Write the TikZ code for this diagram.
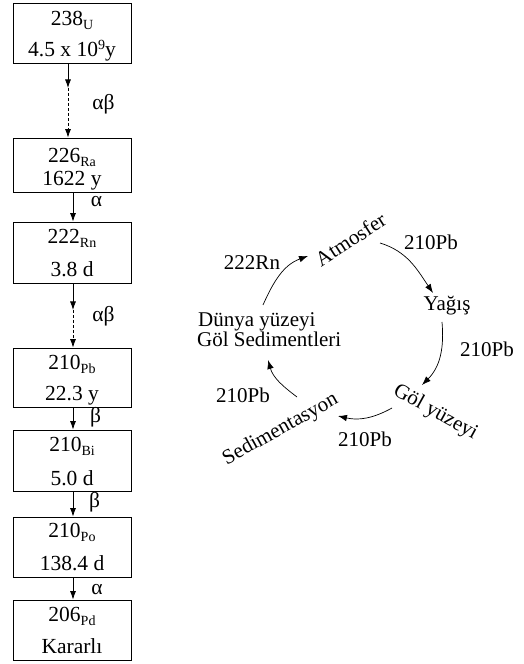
\documentclass[tikz,border=0pt]{standalone}
\usepackage{fontspec}
\setmainfont{Liberation Serif}
\usetikzlibrary{arrows.meta}
\newcommand\isub[1]{\raisebox{-4pt}{\fontsize{14}{14}\selectfont #1}}
\newcommand\isup[1]{\raisebox{7.5pt}{\fontsize{14}{14}\selectfont #1}}
\begin{document}
\begin{tikzpicture}[x=1pt,y=1pt,
  box/.style={draw, line width=0.8pt, minimum width=118pt, inner sep=0pt},
  txt/.style={font=\fontsize{21}{25}\selectfont, inner sep=0pt},
  btxt/.style={font=\fontsize{21.5}{25}\selectfont, inner sep=0pt},
  arr/.style={line width=0.8pt, -{Latex[length=8.5pt,width=6pt]}},
  dsh/.style={arr, dash pattern=on 3pt off 2pt},
  carr/.style={line width=0.7pt, -{Latex[length=9pt,width=6.5pt]}}
]
\useasboundingbox (0,0) rectangle (523,664);
% decay chain boxes
\node[box, minimum height=60pt] (u)  at (72,631)   {};
\node[box, minimum height=54pt] (ra) at (72,499)   {};
\node[box, minimum height=61pt] (rn) at (72,411.5) {};
\node[box, minimum height=59pt] (pb) at (72,286.5) {};
\node[box, minimum height=61pt] (bi) at (72,203.5) {};
\node[box, minimum height=60pt] (po) at (72,117)   {};
\node[box, minimum height=60pt] (pd) at (72,34)    {};
% box texts
\node[btxt, anchor=base] (u1)  at (72,638) {238\isub{U}};
\node[btxt, anchor=base] (u2)  at (72,607) {4.5 x 10\isup{9}y};
\node[btxt, anchor=base] (ra1) at (72,501) {226\isub{Ra}};
\node[btxt, anchor=base] (ra2) at (72,478) {1622 y};
\node[btxt, anchor=base] (rn1) at (72,420) {222\isub{Rn}};
\node[btxt, anchor=base] (rn2) at (72,387) {3.8 d};
\node[btxt, anchor=base] (pb1b) at (72,294) {210\isub{Pb}};
\node[btxt, anchor=base] (pb2b) at (72,263) {22.3 y};
\node[btxt, anchor=base] (bi1) at (72,212) {210\isub{Bi}};
\node[btxt, anchor=base] (bi2) at (72,178) {5.0 d};
\node[btxt, anchor=base] (po1) at (72,126) {210\isub{Po}};
\node[btxt, anchor=base] (po2) at (72,93)  {138.4 d};
\node[btxt, anchor=base] (pd1) at (72,42)  {206\isub{Pd}};
\node[btxt, anchor=base] (pd2) at (72,10)  {Kararlı};
% chain arrows
\coordinate (c0) at (68,0);
\coordinate (cx) at (73,0);
\coordinate (m1) at (68,576);
\coordinate (m2) at (73,354);
\draw[arr] (u.south -| c0) -- (m1);
\draw[dsh] (m1) -- (ra.north -| c0);
\draw[arr] (ra.south -| cx) -- (rn.north -| cx);
\draw[arr] (rn.south -| cx) -- (m2);
\draw[dsh] (m2) -- (pb.north -| cx);
\draw[arr] (pb.south -| cx) -- (bi.north -| cx);
\draw[arr] (bi.south -| cx) -- (po.north -| cx);
\draw[arr] (po.south -| cx) -- (pd.north -| cx);
% chain labels
\node[btxt, anchor=base] (l1) at (103.5,554) {αβ};
\node[btxt, anchor=base] (l2) at (96.5,457)  {α};
\node[btxt, anchor=base] (l3) at (103.5,342) {αβ};
\node[btxt, anchor=base] (l4) at (95.5,241)  {β};
\node[btxt, anchor=base] (l5) at (94.5,156)  {β};
\node[btxt, anchor=base] (l6) at (97,69)     {α};
% cycle
\node[txt, anchor=base, rotate=33] (atm) at (354.5,418.4) {Atmosfer};
\node[txt, anchor=base] (p1) at (431,414) {210Pb};
\node[txt, anchor=base] (yag) at (447,353) {Yağış};
\node[txt, anchor=base] (p2) at (487,307) {210Pb};
\node[txt, anchor=base, rotate=-29] (gol) at (433,247) {Göl yüzeyi};
\node[txt, anchor=base] (p3) at (365,217) {210Pb};
\node[txt, anchor=base, rotate=29] (sed) at (283,230) {Sedimentasyon};
\node[txt, anchor=base] (p4) at (243,261) {210Pb};
\node[txt, anchor=base west] (dun1) at (198,337) {Dünya yüzeyi};
\node[txt, anchor=base west] (dun2) at (197,317) {Göl Sedimentleri};
\node[txt, anchor=base] (rnl) at (252,394) {222Rn};
\coordinate (a1s) at (263,359); \coordinate (a1e) at (308,408);
\coordinate (a2s) at (380,421); \coordinate (a2e) at (433,371);
\coordinate (a3s) at (442,342); \coordinate (a3e) at (422,279);
\coordinate (a4s) at (392,256); \coordinate (a4e) at (338,248);
\coordinate (a5s) at (297,267); \coordinate (a5e) at (268,304);
\draw[carr] (a1s) to[out=66,in=200] (a1e);
\draw[carr] (a2s) to[out=-17,in=124] (a2e);
\draw[carr] (a3s) to[out=-85,in=45] (a3e);
\draw[carr] (a4s) to[out=209,in=-13] (a4e);
\draw[carr] (a5s) to[out=143,in=-74] (a5e);
\end{tikzpicture}
\end{document}
